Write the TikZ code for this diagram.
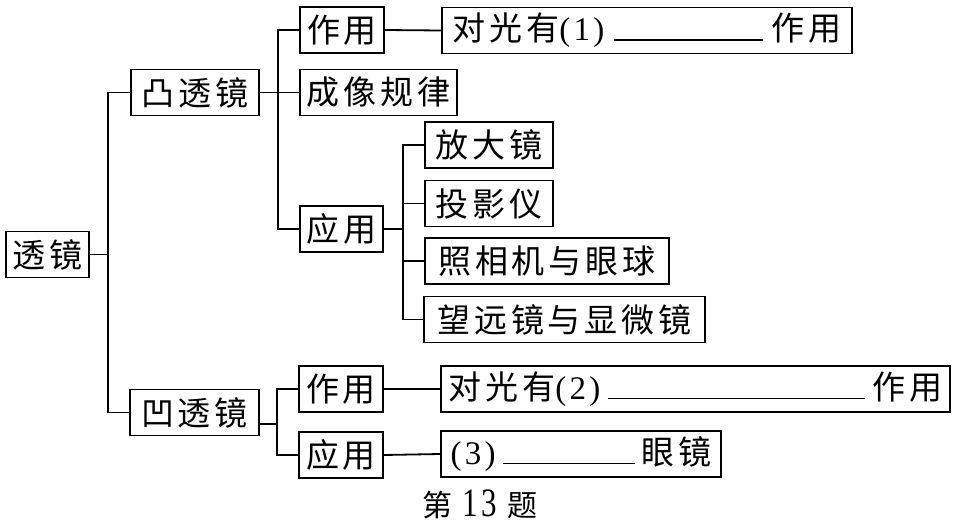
\documentclass[tikz,border=0pt]{standalone}
\usepackage{graphicx}
\usepackage{fontspec}
\setmainfont{Liberation Serif}
\newfontfamily\cjk[LetterSpace=12]{Noto Sans CJK SC}
\newfontfamily\dig[LetterSpace=10]{Liberation Serif}
\newcommand\boxfont{\fontsize{33}{33}\selectfont\cjk}
\newcommand\num[1]{{\fontsize{33}{33}\selectfont\dig #1}}
\newcommand\blankline[1]{\rule[0pt]{#1}{1.8pt}}
\begin{document}
\begin{tikzpicture}[x=1pt,y=-1pt,
  box/.style={draw, line width=1.8pt, inner sep=0pt, minimum height=46pt, font=\boxfont},
  conn/.style={line width=1.8pt, line cap=rect}]
\useasboundingbox (0,0) rectangle (959,525);
% level 0
\node[box, minimum width=83pt] (tj) at (47.5,254.5) {透镜};
% level 1
\node[box, minimum width=128pt] (tu) at (195,92.5) {凸透镜};
\node[box, minimum width=129pt] (ao) at (194.5,412.5) {凹透镜};
% convex branch
\node[box, minimum width=84pt] (zy1) at (342,30) {作用};
\node[box, minimum width=157pt] (cx) at (378.5,92.5) {成像规律};
\node[box, minimum width=83pt] (yy1) at (341.5,229) {应用};
\node[box, minimum width=410pt] (d1) at (647,30.5)
  {\makebox[389pt]{对光有\num{(1)}\hfill\blankline{149pt}\hfill{}作用}};
\node[box, minimum width=128pt] (fd) at (489,145) {放大镜};
\node[box, minimum width=128pt] (ty) at (489,203.5) {投影仪};
\node[box, minimum width=244pt] (zx) at (547,261) {照相机与眼球};
\node[box, minimum width=281pt] (wy) at (564.5,319.5) {望远镜与显微镜};
% concave branch
\node[box, minimum width=84pt] (zy2) at (341,389) {作用};
\node[box, minimum width=84pt] (yy2) at (341,455) {应用};
\node[box, minimum width=509pt] (d2) at (695.5,389)
  {\makebox[494pt]{对光有\num{(2)}\hfill\blankline{257pt}\hfill{}作用}};
\node[box, minimum width=280pt] (d3) at (581,454)
  {\makebox[261pt]{\num{(3)}\hfill\blankline{132pt}\hfill{}眼镜}};
% caption
\node[font=\fontsize{30}{30}\selectfont\cjk] (cap) at (480,504)
  {第 \scalebox{1}[1.3]{\fontsize{31}{31}\selectfont\dig 13} 题};
% bus coordinates
\coordinate (b0) at (108,0);
\coordinate (b1) at (278,0);
\coordinate (b2) at (403,0);
\coordinate (b3) at (277,0);
\coordinate (aoe) at ([yshift=-11.5pt]ao.east);
% connectors
\draw[conn] (tj.east) -- (b0 |- tj.east);
\draw[conn] (tu.west) -- (b0 |- tu.west) -- (b0 |- ao.west) -- (ao.west);
\draw[conn] (tu.east) -- (b1 |- tu.east);
\draw[conn] (zy1.west) -- (b1 |- zy1.west) -- (b1 |- yy1.west) -- (yy1.west);
\draw[conn] (cx.west) -- (b1 |- cx.west);
\draw[conn] (zy1.east) -- (d1.west);
\draw[conn] (yy1.east) -- (b2 |- yy1.east);
\draw[conn] (fd.west) -- (b2 |- fd.west) -- (b2 |- wy.west) -- (wy.west);
\draw[conn] (ty.west) -- (b2 |- ty.west);
\draw[conn] (zx.west) -- (b2 |- zx.west);
\draw[conn] (aoe) -- (b3 |- aoe);
\draw[conn] (zy2.west) -- (b3 |- zy2.west) -- (b3 |- yy2.west) -- (yy2.west);
\draw[conn] (zy2.east) -- (d2.west);
\draw[conn] (yy2.east) -- (d3.west);
\end{tikzpicture}
\end{document}
